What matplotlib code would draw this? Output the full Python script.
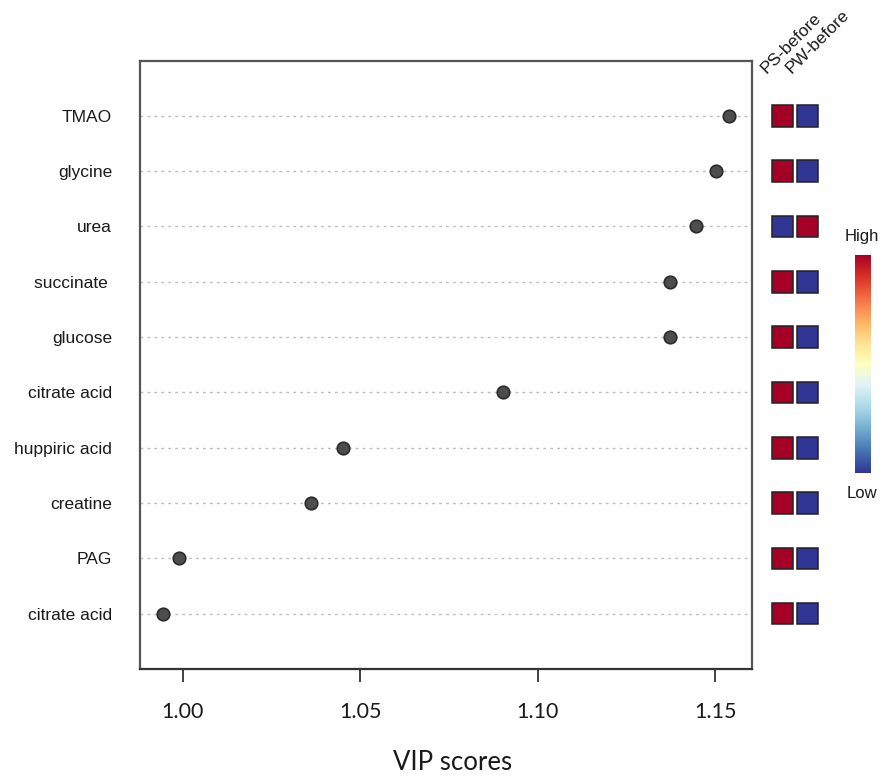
import matplotlib.pyplot as plt
from matplotlib.patches import Rectangle
import numpy as np

# metabolites, top to bottom
metabolites = ["TMAO", "glycine", "urea", "succinate ", "glucose",
               "citrate acid", "huppiric acid", "creatine", "PAG", "citrate acid"]
vip_scores = [1.1539, 1.1502, 1.1445, 1.1373, 1.1373,
              1.0902, 1.0452, 1.0362, 0.9990, 0.9944]
# relative level per group (1 = high, 0 = low)
groups = ["PS-before", "PW-before"]
ps_before = [1, 1, 0, 1, 1, 1, 1, 1, 1, 1]
pw_before = [0, 0, 1, 0, 0, 0, 0, 0, 0, 0]
xticks = [1.00, 1.05, 1.10, 1.15]

cmap = plt.get_cmap("RdYlBu_r")
label_font = ["Liberation Sans", "DejaVu Sans"]
num_font = ["Lato", "DejaVu Sans"]

fig = plt.figure(figsize=(8.93, 7.84), dpi=100)
W, H = 893, 784


def px_axes(x0, y0, x1, y1):
    return fig.add_axes([x0 / W, 1 - y1 / H, (x1 - x0) / W, (y1 - y0) / H])


ax = px_axes(140, 60.5, 751.7, 669)
n = len(metabolites)
ypos = np.arange(n, 0, -1)

for y in ypos:
    ax.axhline(y, color="#bdbdbd", lw=1.0, ls=(0, (2, 3)), zorder=1)
ax.plot(vip_scores, ypos, "o", ms=9, mfc="#4d4d4d", mec="#2a2a2a", mew=1.2, zorder=3)

lo, hi = min(vip_scores), max(vip_scores)
ext = (hi - lo) * 0.04
ax.set_xlim(lo - ext, hi + ext)
ax.set_ylim(0, 11)
ax.set_yticks(ypos)
ax.set_yticklabels(metabolites, family=label_font, fontsize=12.5, color="#1a1a1a")
ax.tick_params(axis="y", length=0, pad=20)
ax.set_xticks(xticks)
ax.set_xticklabels(["%.2f" % v for v in xticks], family=num_font, fontsize=15.5, color="#1a1a1a")
ax.tick_params(axis="x", length=9.5, width=1.3, color="#333333", pad=14)
for sp in ax.spines.values():
    sp.set_color("#555555")
    sp.set_linewidth(1.6)
ax.spines["bottom"].set_color("#333333")

fig.text(453 / W, 1 - 762 / H, "VIP scores", family=num_font, fontsize=18.5,
         ha="center", va="center", color="#1a1a1a")

# heatmap squares
hx = px_axes(770, 60.5, 820, 669)
hx.set_xlim(0, 2)
hx.set_ylim(0, 11)
hx.axis("off")
for j, vals in enumerate([ps_before, pw_before]):
    for y, v in zip(ypos, vals):
        hx.add_patch(Rectangle((j + 0.07, y - 0.195), 0.86, 0.39, facecolor=cmap(float(v)),
                               edgecolor="#222222", lw=1.1, clip_on=False))
for j, g in enumerate(groups):
    fig.text((769 + j * 25) / W, 1 - 76 / H, g, rotation=45, rotation_mode="anchor",
             ha="left", va="bottom", family=label_font, fontsize=12.5, color="#1a1a1a")

# colour key
cx = px_axes(855, 255, 870.5, 473)
grad = np.linspace(1, 0, 256).reshape(-1, 1)
cx.imshow(grad, aspect="auto", cmap=cmap, extent=[0, 1, 0, 1])
cx.axis("off")
fig.text(862 / W, 1 - 236 / H, "High", ha="center", va="center",
         family=label_font, fontsize=12, color="#1a1a1a")
fig.text(862 / W, 1 - 493 / H, "Low", ha="center", va="center",
         family=label_font, fontsize=12, color="#1a1a1a")

fig.savefig("out.png", dpi=100)
